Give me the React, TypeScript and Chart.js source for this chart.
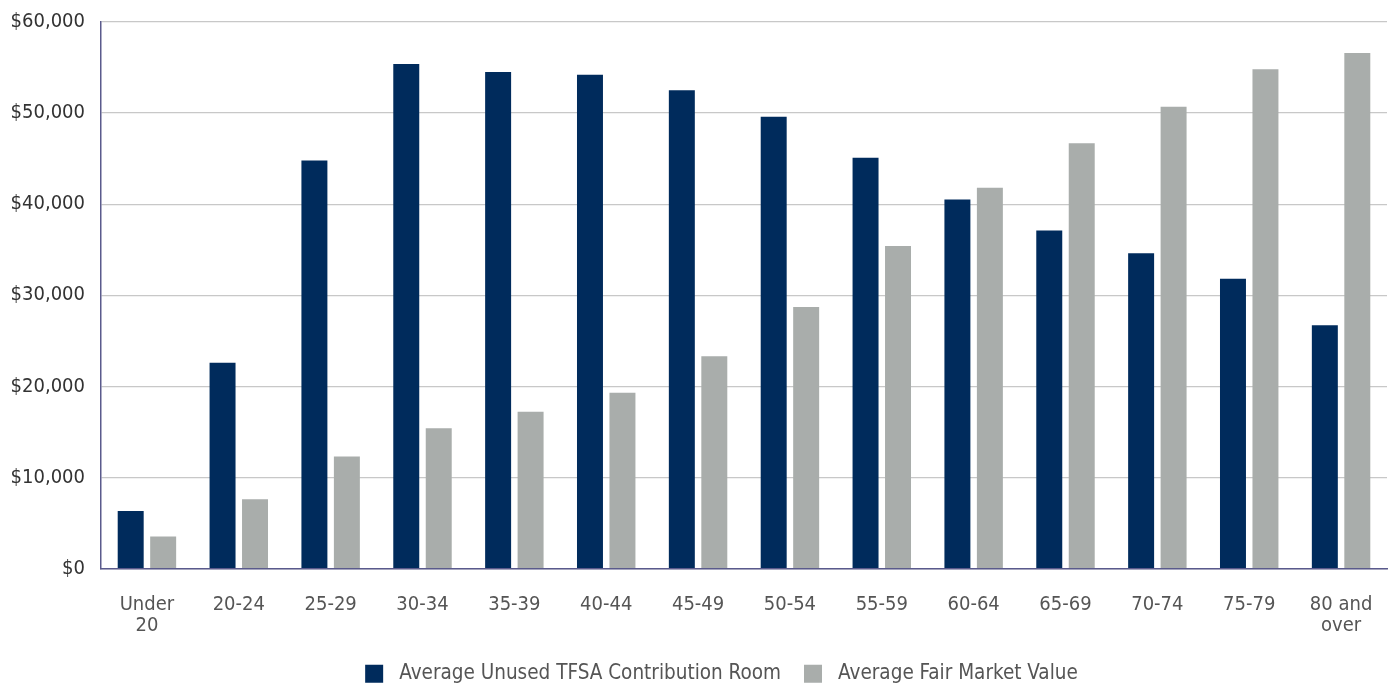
import React, { useEffect, useRef } from "react";
import { Chart, registerables } from "chart.js";

Chart.register(...registerables);

const categories: (string | string[])[] = [
  ["Under", "20"], "20-24", "25-29", "30-34", "35-39", "40-44", "45-49",
  "50-54", "55-59", "60-64", "65-69", "70-74", "75-79", ["80 and", "over"],
];
const unusedRoom = [6300, 22600, 44800, 55400, 54500, 54200, 52500, 49600, 45100, 40500, 37100, 34600, 31800, 26700];
const fairMarketValue = [3500, 7600, 12300, 15400, 17200, 19300, 23300, 28700, 35400, 41800, 46700, 50700, 54800, 56600];
const seriesNames = ["Average Unused TFSA Contribution Room", "Average Fair Market Value"];

const FONT = "'DejaVu Sans Condensed', 'Liberation Sans Narrow', 'Roboto', sans-serif";

export default function App() {
  const ref = useRef<HTMLCanvasElement | null>(null);
  useEffect(() => {
    document.body.style.margin = "0";
    const ctx = ref.current!;
    const chart = new Chart(ctx, {
      type: "bar",
      data: {
        labels: categories,
        datasets: [
          { label: seriesNames[0], data: unusedRoom, backgroundColor: "#002b5c", categoryPercentage: 0.707, barPercentage: 0.8 },
          { label: seriesNames[1], data: fairMarketValue, backgroundColor: "#a9adab", categoryPercentage: 0.707, barPercentage: 0.8 },
        ],
      },
      plugins: [
        {
          id: "shiftLegend",
          afterLayout: (c: any) => {
            if (c.legend) {
              c.legend.top += 6;
              c.legend.bottom += 6;
              c.legend.left += 28;
              c.legend.right += 28;
            }
          },
        },
      ],
      options: {
        animation: false,
        responsive: true,
        maintainAspectRatio: false,
        layout: { padding: { left: 0, right: 5, top: 21, bottom: 0 } },
        plugins: {
          tooltip: { enabled: false },
          legend: {
            position: "bottom",
            labels: {
              boxWidth: 18,
              boxHeight: 18,
              padding: 23,
              color: "#555",
              font: { family: FONT, size: 20.5 },
              generateLabels: (c: any) => {
                const items = Chart.defaults.plugins.legend.labels.generateLabels(c);
                return items.map((it: any) => ({ ...it, text: " " + it.text }));
              },
            },
          },
        },
        scales: {
          x: {
            grid: { display: false, drawTicks: false },
            border: { display: true, color: "#5a5a8c", width: 1.5 },
            ticks: { color: "#555", padding: 26, maxRotation: 0, autoSkip: false, font: { family: FONT, size: 20, lineHeight: 1.05 } },
            afterFit: (s: any) => {
              s.height = 66;
              s.paddingLeft = 0;
              s.paddingRight = 0;
            },
          },
          y: {
            min: 0,
            max: 60000,
            grid: { color: "#c8c8c8", drawTicks: false, lineWidth: 1.2 },
            border: { display: true, color: "#5a5a8c", width: 1.5 },
            ticks: {
              stepSize: 10000,
              color: "#333",
              padding: 16,
              font: { family: FONT, size: 20, lineHeight: 0.6 },
              callback: (v: any) => "$" + Number(v).toLocaleString("en-US"),
            },
            afterFit: (s: any) => { s.width = 101; },
          },
        },
      },
    });
    return () => chart.destroy();
  }, []);
  return (
    <div style={{ width: 1392, height: 688, position: "relative" }}>
      <canvas ref={ref} />
    </div>
  );
}
